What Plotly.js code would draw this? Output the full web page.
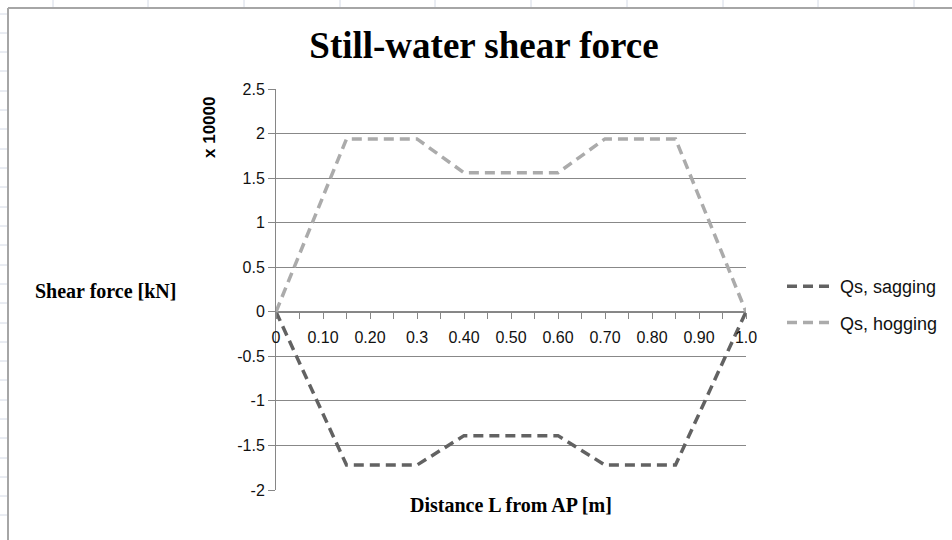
<!DOCTYPE html>
<html>
<head>
<meta charset="utf-8">
<script src="https://cdn.plot.ly/plotly-3.0.1.min.js"></script>
<style>html,body{margin:0;padding:0;background:#fff;}#chart{width:952px;height:540px;}</style>
</head>
<body>
<div id="chart"></div>
<script>
// Distance along ship as fraction of L (break points of the curves)
const xPositions = [0, 0.15, 0.3, 0.4, 0.6, 0.7, 0.85, 1.0];
// Still-water shear force, in units of x 10000 kN
const qsSagging = [0, -1.72, -1.72, -1.39, -1.39, -1.72, -1.72, 0];
const qsHogging = [0, 1.94, 1.94, 1.56, 1.56, 1.94, 1.94, 0];
const seriesNames = ["Qs, sagging", "Qs, hogging"];
// Category axis ticks
const xTickVals = [0,0.05,0.1,0.15,0.2,0.25,0.3,0.35,0.4,0.45,0.5,0.55,0.6,0.65,0.7,0.75,0.8,0.85,0.9,0.95,1.0];
const xTickText = ["0","","0.10","","0.20","","0.3","","0.40","","0.50","","0.60","","0.70","","0.80","","0.90","","1.0"];
const yTickVals = [2.5,2,1.5,1,0.5,0,-0.5,-1,-1.5,-2];
const yTickText = ["2.5","2","1.5","1","0.5","0","-0.5","-1","-1.5","-2"];

const W = 952, H = 540, L = 276, R = 206, T = 89, B = 50;
const pw = W - L - R, ph = H - T - B;
const px = v => (v - L) / pw;
const py = v => (H - B - v) / ph;

const shapes = [];
// spreadsheet cell gridlines around the chart
[53,148,244,340,435,531,627,723,818,914].forEach(x => shapes.push({type:'line', xref:'paper', yref:'paper', x0:px(x), x1:px(x), y0:py(0), y1:py(8), line:{color:'#d4dae6', width:1}, layer:'below'}));
[14,33,52,71,91,110,129,149,168,187,207,226,245,265,284,303,323,342,361,380,400,419,438,458,477,496,515].forEach(y => shapes.push({type:'line', xref:'paper', yref:'paper', x0:px(0), x1:px(8), y0:py(y), y1:py(y), line:{color:'#d4dae6', width:1}, layer:'below'}));
// chart area border
shapes.push({type:'line', xref:'paper', yref:'paper', x0:px(8), x1:px(8), y0:py(8), y1:py(545), line:{color:'#a6a6a6', width:2}});
shapes.push({type:'line', xref:'paper', yref:'paper', x0:px(8), x1:px(955), y0:py(8), y1:py(8), line:{color:'#a6a6a6', width:2}});

const traces = [
  {x: xPositions, y: qsSagging, name: seriesNames[0], type:'scatter', mode:'lines', legendgroup:'a',
   line:{color:'#626262', width:3.5, dash:'10px,6px'}, cliponaxis:false},
  {x: xPositions, y: qsHogging, name: seriesNames[1], type:'scatter', mode:'lines', legendgroup:'b',
   line:{color:'#ababab', width:3.5, dash:'10px,6px'}, cliponaxis:false}
];

const layout = {
  width: W, height: H,
  margin: {l:L, r:R, t:T, b:B, pad:0, autoexpand:false},
  paper_bgcolor:'#ffffff', plot_bgcolor:'#ffffff',
  title: {text:'<b>Still-water shear force</b>', x:484/W, xref:'container', y:1-45/H, yref:'container', xanchor:'center', yanchor:'middle',
          font:{family:'Liberation Serif, serif', size:37, color:'#000'}},
  xaxis: {range:[0,1], anchor:'free', position: 2/4.5, showgrid:false, zeroline:false, automargin:false,
          showline:true, linecolor:'#868686', linewidth:1,
          tickmode:'array', tickvals:xTickVals, ticktext:xTickText,
          ticks:'outside', ticklen:6, tickcolor:'#868686', ticklabelstandoff:5,
          tickfont:{family:'Liberation Sans, Arial, sans-serif', size:16, color:'#111'}, fixedrange:true},
  yaxis: {range:[-2,2.5], showgrid:true, gridcolor:'#888888', gridwidth:1, zeroline:false, automargin:false,
          showline:true, linecolor:'#868686', linewidth:1,
          tickmode:'array', tickvals:yTickVals, ticktext:yTickText,
          ticks:'outside', ticklen:7, tickcolor:'#868686',
          tickfont:{family:'Liberation Sans, Arial, sans-serif', size:16, color:'#111'}, fixedrange:true},
  showlegend: true,
  legend: {x:px(782), y:py(268), xanchor:'left', yanchor:'top', traceorder:'grouped', tracegroupgap:10,
           itemwidth:48, font:{family:'Liberation Sans, Arial, sans-serif', size:18, color:'#111'}, bgcolor:'rgba(0,0,0,0)'},
  shapes: shapes,
  annotations: [
    {text:'<b>Shear force [kN]</b>', xref:'paper', yref:'paper', x:px(105), y:py(291), showarrow:false, xanchor:'center', yanchor:'middle',
     font:{family:'Liberation Serif, serif', size:20, color:'#000'}},
    {text:'<b>x 10000</b>', xref:'paper', yref:'paper', x:px(209), y:py(128), showarrow:false, textangle:-90, xanchor:'center', yanchor:'middle',
     font:{family:'Liberation Sans, Arial, sans-serif', size:17, color:'#000'}},
    {text:'<b>Distance L from AP [m]</b>', xref:'paper', yref:'paper', x:px(511), y:py(505), showarrow:false, xanchor:'center', yanchor:'middle',
     font:{family:'Liberation Serif, serif', size:20, color:'#000'}}
  ]
};

Plotly.newPlot('chart', traces, layout, {displayModeBar:false, staticPlot:true});
</script>
</body>
</html>
